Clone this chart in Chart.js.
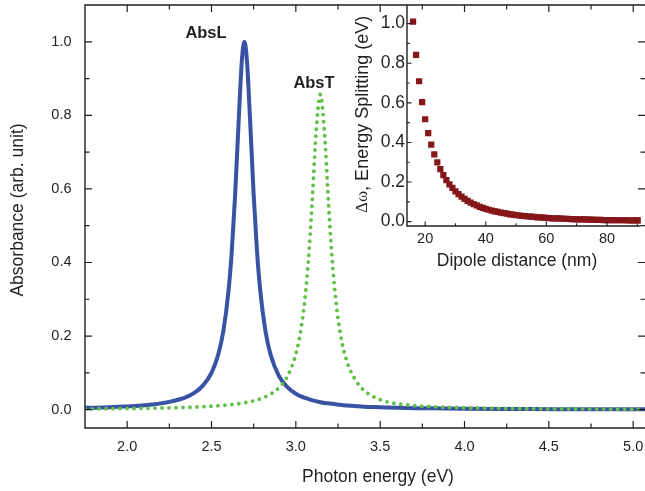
<!DOCTYPE html>
<html>
<head>
<meta charset="utf-8">
<script src="https://cdn.jsdelivr.net/npm/chart.js@4.4.1/dist/chart.umd.min.js"></script>
<style>
html, body { margin: 0; padding: 0; background: #fff; }
#wrap { position: relative; width: 645px; height: 491px; }
#mainChart { position: absolute; left: 0; top: 0; }
#insetChart { position: absolute; left: 330px; top: 0; }
</style>
</head>
<body>
<div id="wrap">
  <canvas id="mainChart" width="645" height="491"></canvas>
  <canvas id="insetChart" width="315" height="280"></canvas>
</div>
<script>
// main plot: photon energy (eV) vs absorbance
const energy = [1.75, 1.85, 1.95, 2.05, 2.15, 2.25, 2.35, 2.40, 2.45, 2.50, 2.54, 2.57, 2.60, 2.62, 2.64, 2.66, 2.68, 2.695,
  2.71, 2.73, 2.75, 2.77, 2.79, 2.82, 2.85, 2.90, 2.95, 3.00, 3.03, 3.06, 3.08, 3.10, 3.12, 3.145,
  3.17, 3.19, 3.21, 3.23, 3.26, 3.30, 3.35, 3.40, 3.50, 3.60, 3.70, 3.80, 4.00, 4.20, 4.40, 4.60, 4.80, 5.00, 5.07]
const absL = [0.005, 0.006, 0.008, 0.010, 0.014, 0.021, 0.034, 0.046, 0.066, 0.100, 0.150, 0.213, 0.319, 0.429, 0.583, 0.775, 0.949, 1.000,
  0.949, 0.775, 0.583, 0.429, 0.319, 0.213, 0.150, 0.091, 0.061, 0.043, 0.036, 0.031, 0.028, 0.025, 0.023, 0.020,
  0.018, 0.017, 0.016, 0.015, 0.013, 0.011, 0.010, 0.008, 0.0065, 0.005, 0.004, 0.0034, 0.0025, 0.0019, 0.0015, 0.0012, 0.001, 0.0008, 0.0008]
const absT = [0.002, 0.0023, 0.0027, 0.0032, 0.0039, 0.0048, 0.006, 0.0069, 0.0079, 0.0091, 0.0104, 0.0115, 0.0128, 0.0137, 0.0148, 0.016, 0.0174, 0.0186,
  0.0198, 0.0218, 0.0239, 0.0265, 0.0295, 0.035, 0.042, 0.0595, 0.0905, 0.151, 0.217, 0.328, 0.442, 0.591, 0.752, 0.857,
  0.752, 0.591, 0.442, 0.328, 0.217, 0.135, 0.083, 0.054, 0.027, 0.016, 0.011, 0.008, 0.005, 0.0034, 0.0024, 0.0018, 0.0014, 0.0011, 0.001]
const energyTicks = [2.0, 2.5, 3.0, 3.5, 4.0, 4.5, 5.0]
const energyMinor = [2.25, 2.75, 3.25, 3.75, 4.25, 4.75]
const absTicks = [0, 0.2, 0.4, 0.6, 0.8, 1.0]
const absMinor = [0.1, 0.3, 0.5, 0.7, 0.9]

// inset: dipole distance (nm) vs energy splitting (eV)
const distance = [16, 17, 18, 19, 20, 21, 22, 23, 24, 25, 26, 27, 28, 29, 30, 31, 32, 33, 34, 35, 36, 37, 38, 39, 40,
  41, 42, 43, 44, 45, 46, 47, 48, 49, 50, 51, 52, 53, 54, 55, 56, 57, 58, 59, 60, 61, 62, 63, 64, 65, 66,
  67, 68, 69, 70, 71, 72, 73, 74, 75, 76, 77, 78, 79, 80, 81, 82, 83, 84, 85, 86, 87, 88, 89, 90, 91, 92]
const splitting = [1.01, 0.842, 0.709, 0.603, 0.517, 0.447, 0.389, 0.340, 0.299, 0.265, 0.235, 0.210, 0.188, 0.170, 0.153,
  0.139, 0.126, 0.115, 0.105, 0.096, 0.089, 0.082, 0.075, 0.070, 0.065, 0.060, 0.056, 0.052, 0.049, 0.045,
  0.043, 0.040, 0.037, 0.035, 0.033, 0.031, 0.029, 0.028, 0.026, 0.025, 0.024, 0.022, 0.021, 0.020, 0.019,
  0.018, 0.017, 0.017, 0.016, 0.015, 0.014, 0.014, 0.013, 0.013, 0.012, 0.012, 0.011, 0.011, 0.010, 0.010,
  0.009, 0.009, 0.009, 0.008, 0.008, 0.008, 0.008, 0.007, 0.007, 0.007, 0.007, 0.006, 0.006, 0.006, 0.006, 0.006, 0.005]
const distTicks = [20, 40, 60, 80]
const distMinor = [30, 50, 70, 90]
const splitTicks = [0, 0.2, 0.4, 0.6, 0.8, 1.0]
const splitMinor = [0.1, 0.3, 0.5, 0.7, 0.9]

const SANS = "'Liberation Sans', Arial, sans-serif"
const INK = '#231f20'

function write(ctx, str, x, y, font, align, rot) {
    ctx.save()
    ctx.translate(x, y)
    if (rot) ctx.rotate(rot)
    ctx.font = font
    ctx.fillStyle = INK
    ctx.textAlign = align || 'center'
    ctx.textBaseline = 'middle'
    ctx.fillText(str, 0, 0)
    ctx.restore()
}

function tickMarks(ctx, scale, values, len, sides, area) {
    ctx.beginPath()
    values.forEach(function (v) {
        const p = scale.getPixelForValue(v)
        if (scale.isHorizontal()) {
            if (sides.includes('bottom')) { ctx.moveTo(p, area.bottom); ctx.lineTo(p, area.bottom - len) }
            if (sides.includes('top')) { ctx.moveTo(p, area.top); ctx.lineTo(p, area.top + len) }
        } else {
            if (sides.includes('left')) { ctx.moveTo(area.left, p); ctx.lineTo(area.left + len, p) }
            if (sides.includes('right')) { ctx.moveTo(area.right, p); ctx.lineTo(area.right - len, p) }
        }
    })
    ctx.stroke()
}

const mainDecor = {
    id: 'mainDecor',
    afterDraw(chart) {
        const ctx = chart.ctx
        const a = chart.chartArea
        ctx.save()
        ctx.strokeStyle = INK
        ctx.lineWidth = 1.4
        // frame: the right edge sits just past the canvas, only its ticks show
        ctx.beginPath()
        ctx.moveTo(a.right, a.top)
        ctx.lineTo(a.left, a.top)
        ctx.lineTo(a.left, a.bottom)
        ctx.lineTo(a.right, a.bottom)
        ctx.stroke()
        ctx.lineWidth = 1.2
        tickMarks(ctx, chart.scales.x, energyTicks, 7, ['top', 'bottom'], a)
        tickMarks(ctx, chart.scales.x, energyMinor, 4.5, ['top', 'bottom'], a)
        tickMarks(ctx, chart.scales.y, absTicks, 7, ['left', 'right'], a)
        tickMarks(ctx, chart.scales.y, absMinor, 4.5, ['left', 'right'], a)
        ctx.restore()

        write(ctx, 'AbsL', 206, 33, 'bold 16.5px ' + SANS)
        write(ctx, 'AbsT', 314, 83, 'bold 16.5px ' + SANS)
        write(ctx, 'Photon energy (eV)', 378, 477, '17.5px ' + SANS)
        write(ctx, 'Absorbance (arb. unit)', 18, 210, '17.5px ' + SANS, 'center', -Math.PI / 2)
    }
}

const insetDecor = {
    id: 'insetDecor',
    afterDraw(chart) {
        const ctx = chart.ctx
        const a = chart.chartArea
        ctx.save()
        ctx.strokeStyle = INK
        ctx.lineWidth = 1.4
        ctx.beginPath()
        ctx.moveTo(a.left, a.top)
        ctx.lineTo(a.left, a.bottom)
        ctx.lineTo(a.right, a.bottom)
        ctx.stroke()
        ctx.lineWidth = 1.1
        tickMarks(ctx, chart.scales.x, distTicks, 4.5, ['bottom'], a)
        tickMarks(ctx, chart.scales.x, distMinor, 2.7, ['bottom'], a)
        tickMarks(ctx, chart.scales.y, splitTicks, 4.5, ['left'], a)
        tickMarks(ctx, chart.scales.y, splitMinor, 2.7, ['left'], a)
        ctx.restore()

        write(ctx, 'Dipole distance (nm)', 187, 261, '17.5px ' + SANS)
        // rotated title: serif Δω followed by the sans part
        ctx.save()
        ctx.translate(33, 213)
        ctx.rotate(-Math.PI / 2)
        ctx.fillStyle = INK
        ctx.textBaseline = 'middle'
        ctx.textAlign = 'left'
        ctx.font = "17px 'Liberation Serif', 'Times New Roman', serif"
        ctx.fillText('Δω', 0, 0)
        const w = ctx.measureText('Δω').width
        ctx.font = '18px ' + SANS
        ctx.fillText(', Energy Splitting (eV)', w, 0)
        ctx.restore()
    }
}

Chart.defaults.font.family = SANS
Chart.defaults.color = INK

new Chart(document.getElementById('mainChart'), {
    type: 'line',
    data: {
        datasets: [{
            label: 'AbsL',
            data: energy.map((x, i) => ({ x: x, y: absL[i] })),
            borderColor: '#3953a4',
            borderWidth: 4,
            pointRadius: 0,
            cubicInterpolationMode: 'monotone',
            order: 1
        }, {
            label: 'AbsT',
            data: energy.map((x, i) => ({ x: x, y: absT[i] })),
            borderColor: '#62bf47',
            borderWidth: 3.9,
            borderDash: [0, 7],
            borderCapStyle: 'round',
            pointRadius: 0,
            cubicInterpolationMode: 'monotone',
            order: 0
        }]
    },
    options: {
        responsive: false,
        animation: false,
        events: [],
        layout: { padding: { left: 0, top: 5, right: 0, bottom: 0 } },
        plugins: { legend: { display: false }, tooltip: { enabled: false } },
        scales: {
            x: {
                type: 'linear', min: 1.75, max: 5.07,
                grid: { display: false, drawTicks: false },
                border: { display: false },
                afterBuildTicks: s => { s.ticks = energyTicks.map(v => ({ value: v })) },
                afterFit: s => { s.height = 63; s.paddingLeft = 0; s.paddingRight = 0 },
                ticks: { font: { size: 14.5 }, padding: 10, maxRotation: 0, autoSkip: false, callback: v => v.toFixed(1) }
            },
            y: {
                type: 'linear', min: -0.05, max: 1.1,
                grid: { display: false, drawTicks: false },
                border: { display: false },
                afterBuildTicks: s => { s.ticks = absTicks.map(v => ({ value: v })) },
                afterFit: s => { s.width = 85; s.paddingTop = 0; s.paddingBottom = 0 },
                ticks: { font: { size: 14.5 }, padding: 13.5, autoSkip: false, callback: v => v.toFixed(1) }
            }
        }
    },
    plugins: [mainDecor]
})

new Chart(document.getElementById('insetChart'), {
    type: 'scatter',
    data: {
        datasets: [{
            label: 'splitting',
            data: distance.map((x, i) => ({ x: x, y: splitting[i] })),
            backgroundColor: '#85161a',
            borderWidth: 0,
            pointStyle: 'rect',
            pointRadius: 4.4
        }]
    },
    options: {
        responsive: false,
        animation: false,
        events: [],
        layout: { padding: { left: 0, top: 5, right: 0, bottom: 0 } },
        plugins: { legend: { display: false }, tooltip: { enabled: false } },
        scales: {
            x: {
                type: 'linear', min: 14, max: 91.1,
                grid: { display: false, drawTicks: false },
                border: { display: false },
                afterBuildTicks: s => { s.ticks = distTicks.map(v => ({ value: v })) },
                afterFit: s => { s.height = 54; s.paddingLeft = 0; s.paddingRight = 0 },
                ticks: { font: { size: 14.5 }, padding: 4, maxRotation: 0, autoSkip: false, callback: v => String(v) }
            },
            y: {
                type: 'linear', min: -0.022, max: 1.094,
                grid: { display: false, drawTicks: false },
                border: { display: false },
                afterBuildTicks: s => { s.ticks = splitTicks.map(v => ({ value: v })) },
                afterFit: s => { s.width = 77; s.paddingTop = 0; s.paddingBottom = 0 },
                ticks: { font: { size: 17.5 }, padding: 2, autoSkip: false, callback: v => v.toFixed(1) }
            }
        }
    },
    plugins: [insetDecor]
})
</script>
</body>
</html>
